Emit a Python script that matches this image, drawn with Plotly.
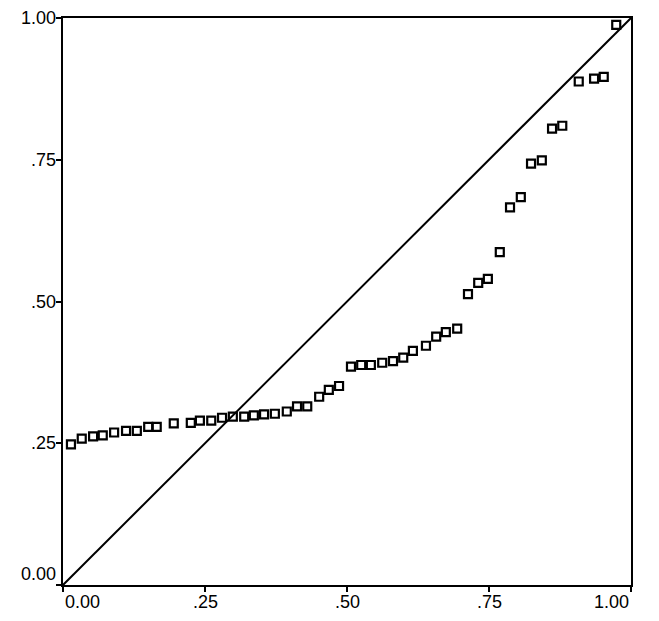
import plotly.graph_objects as go

# Observed cumulative probability (x) vs expected cumulative probability (y)
observed_cum_prob = [0.014, 0.033, 0.053, 0.070, 0.090, 0.111, 0.130, 0.150, 0.165, 0.195,
                     0.225, 0.241, 0.261, 0.280, 0.299, 0.319, 0.336, 0.354, 0.373, 0.394,
                     0.412, 0.430, 0.451, 0.468, 0.486, 0.507, 0.525, 0.542, 0.562, 0.581,
                     0.599, 0.616, 0.639, 0.657, 0.674, 0.694, 0.713, 0.731, 0.748, 0.769,
                     0.787, 0.806, 0.824, 0.843, 0.861, 0.879, 0.908, 0.935, 0.952, 0.974,
                     0.993]
expected_cum_prob = [0.248, 0.258, 0.262, 0.264, 0.269, 0.272, 0.272, 0.279, 0.279, 0.285,
                     0.286, 0.290, 0.290, 0.295, 0.297, 0.297, 0.299, 0.301, 0.302, 0.306,
                     0.315, 0.315, 0.332, 0.344, 0.351, 0.385, 0.388, 0.388, 0.392, 0.395,
                     0.401, 0.413, 0.422, 0.438, 0.446, 0.452, 0.513, 0.533, 0.540, 0.587,
                     0.666, 0.684, 0.743, 0.749, 0.805, 0.810, 0.888, 0.893, 0.896, 0.988,
                     1.005]

reference_line_x = [0.0, 1.0]
reference_line_y = [0.0, 1.0]

tick_values = [0.0, 0.25, 0.5, 0.75, 1.0]
tick_labels = ["0.00", ".25", ".50", ".75", "1.00"]

FONT = "Liberation Sans, Arial, sans-serif"
FS = 18

fig = go.Figure()
fig.add_trace(go.Scatter(
    x=reference_line_x, y=reference_line_y, mode="lines",
    line=dict(color="black", width=2), showlegend=False, hoverinfo="skip"))
fig.add_trace(go.Scatter(
    x=observed_cum_prob, y=expected_cum_prob, mode="markers",
    marker=dict(symbol="square-open", size=8, color="black", line=dict(width=2.2, color="black")),
    showlegend=False, cliponaxis=False))

annotations = []
for v, t in zip(tick_values, tick_labels):
    xa = "left" if v == 0 else ("right" if v == 1 else "center")
    annotations.append(dict(x=v, y=0, xref="x", yref="paper", text=t, showarrow=False,
                            xanchor=xa, yanchor="top", yshift=-5,
                            font=dict(family=FONT, size=FS, color="black")))
    ya = "bottom" if v == 0 else "middle"
    annotations.append(dict(x=0, y=v, xref="paper", yref="y", text=t, showarrow=False,
                            xanchor="right", yanchor=ya, xshift=-5,
                            yshift=-1 if v == 0 else 0,
                            font=dict(family=FONT, size=FS, color="black")))

axis_common = dict(range=[0, 1], tickvals=tick_values, showticklabels=False,
                   ticks="outside", ticklen=5, tickwidth=1.5, tickcolor="black",
                   showline=True, linecolor="black", linewidth=2, mirror=True,
                   showgrid=False, zeroline=False, fixedrange=True)

# the page body adds an 8px margin, so the figure is sized to fit the window
fig.update_layout(
    width=651, height=613,
    margin=dict(l=55, r=28, t=8, b=36),
    paper_bgcolor="white", plot_bgcolor="white",
    xaxis=axis_common, yaxis=axis_common,
    annotations=annotations,
    font=dict(family=FONT, size=FS, color="black"),
)

fig.write_html("out.html")
